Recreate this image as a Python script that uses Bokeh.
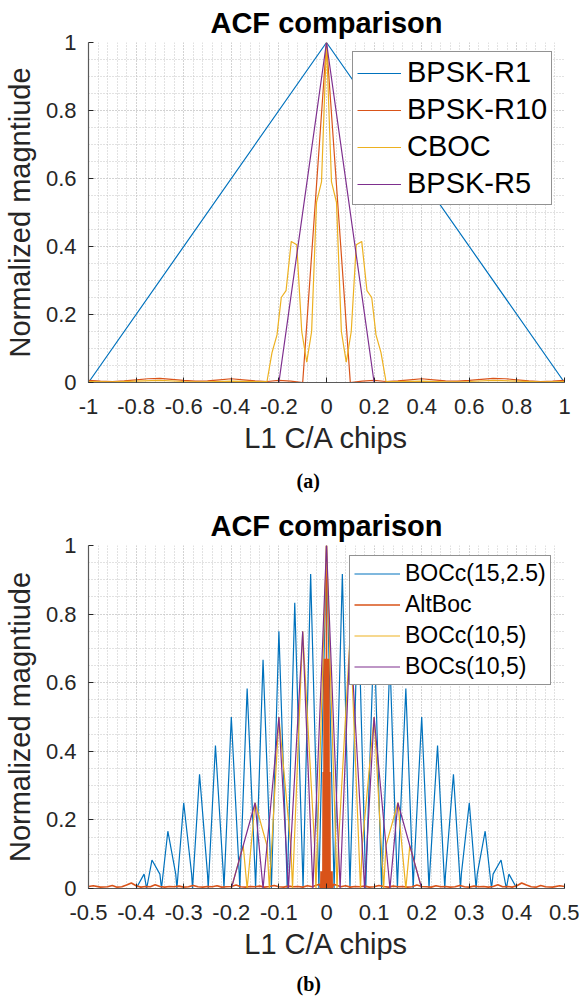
from bokeh.plotting import figure
from bokeh.models import Range1d, FixedTicker, CustomJSTickFormatter, Legend, LegendItem, Title
from bokeh.layouts import column
from bokeh.embed import file_html
from bokeh.resources import INLINE

# ---------------- Panel (a) data ----------------
a_xticks = [-1.0, -0.8, -0.6, -0.4, -0.2, 0.0, 0.2, 0.4, 0.6, 0.8, 1.0]
a_yticks = [0.0, 0.2, 0.4, 0.6, 0.8, 1.0]

bpsk_r1_x = [-1.0, 0.0, 1.0]
bpsk_r1_y = [0.0, 1.0, 0.0]

bpsk_r10_x = [-1.0, -0.95, -0.9, -0.85, -0.8, -0.75, -0.7, -0.65, -0.6, -0.55, -0.5, -0.45, -0.4,
              -0.35, -0.3, -0.25, -0.2, -0.15, -0.1, 0.0, 0.1, 0.15, 0.2, 0.25, 0.3, 0.35, 0.4,
              0.45, 0.5, 0.55, 0.6, 0.65, 0.7, 0.75, 0.8, 0.85, 0.9, 0.95, 1.0]
bpsk_r10_y = [0.006, 0.004, 0.003, 0.005, 0.008, 0.011, 0.012, 0.009, 0.006, 0.004, 0.005, 0.008, 0.011,
              0.008, 0.005, 0.003, 0.006, 0.004, 0.0, 1.0, 0.0, 0.004, 0.006, 0.003, 0.005, 0.008, 0.011,
              0.008, 0.005, 0.004, 0.006, 0.009, 0.012, 0.011, 0.008, 0.005, 0.003, 0.004, 0.006]

cboc_x = [-1.0, -0.9, -0.8, -0.7, -0.6, -0.5, -0.4, -0.3, -0.25, -0.229, -0.208, -0.19, -0.17,
          -0.148, -0.125, -0.104, -0.083, -0.0625, -0.042, -0.021, 0.0, 0.021, 0.042, 0.0625,
          0.083, 0.104, 0.125, 0.148, 0.17, 0.19, 0.208, 0.229, 0.25, 0.3, 0.4, 0.5, 0.6, 0.7,
          0.8, 0.9, 1.0]
cboc_y = [0.003, 0.002, 0.004, 0.006, 0.003, 0.002, 0.004, 0.003, 0.003, 0.088, 0.14, 0.25, 0.27,
          0.415, 0.405, 0.15, 0.06, 0.15, 0.53, 0.59, 1.0, 0.59, 0.53, 0.15,
          0.06, 0.15, 0.405, 0.415, 0.27, 0.25, 0.14, 0.088, 0.003, 0.003, 0.004, 0.002, 0.003, 0.006,
          0.004, 0.002, 0.003]

bpsk_r5_x = [-1.0, -0.2, 0.0, 0.2, 1.0]
bpsk_r5_y = [0.0, 0.0, 1.0, 0.0, 0.0]

# ---------------- Panel (b) data ----------------
b_xticks = [-0.5, -0.4, -0.3, -0.2, -0.1, 0.0, 0.1, 0.2, 0.3, 0.4, 0.5]
b_yticks = [0.0, 0.2, 0.4, 0.6, 0.8, 1.0]

bocc15_x = [-0.5, -0.4, -0.3833, -0.3778, -0.3667, -0.35, -0.3467, -0.3333, -0.3167, -0.3143, -0.3,
            -0.2833, -0.2815, -0.2667, -0.25, -0.2485, -0.2333, -0.2167, -0.2154, -0.2, -0.1833,
            -0.1822, -0.1667, -0.15, -0.149, -0.1333, -0.1167, -0.1158, -0.1, -0.0833, -0.0825,
            -0.0667, -0.05, -0.0493, -0.0333, -0.0167, -0.016, 0.0, 0.016, 0.0167, 0.0333, 0.0493,
            0.05, 0.0667, 0.0825, 0.0833, 0.1, 0.1158, 0.1167, 0.1333, 0.149, 0.15, 0.1667, 0.1822,
            0.1833, 0.2, 0.2154, 0.2167, 0.2333, 0.2485, 0.25, 0.2667, 0.2815, 0.2833, 0.3, 0.3143,
            0.3167, 0.3333, 0.3467, 0.35, 0.3667, 0.3778, 0.3833, 0.4, 0.5]
bocc15_y = [0.0, 0.0, 0.042, 0.0, 0.083, 0.042, 0.0, 0.167, 0.042, 0.0, 0.25,
            0.042, 0.0, 0.333, 0.042, 0.0, 0.417, 0.042, 0.0, 0.5, 0.042,
            0.0, 0.583, 0.042, 0.0, 0.667, 0.042, 0.0, 0.75, 0.042, 0.0,
            0.833, 0.042, 0.0, 0.917, 0.042, 0.0, 1.0, 0.0, 0.042, 0.917, 0.0,
            0.042, 0.833, 0.0, 0.042, 0.75, 0.0, 0.042, 0.667, 0.0, 0.042, 0.583, 0.0,
            0.042, 0.5, 0.0, 0.042, 0.417, 0.0, 0.042, 0.333, 0.0, 0.042, 0.25, 0.0,
            0.042, 0.167, 0.0, 0.042, 0.083, 0.0, 0.042, 0.0, 0.0]

altboc_x = [-0.5, -0.49, -0.475, -0.46, -0.45, -0.44, -0.43, -0.42, -0.41, -0.4, -0.39, -0.38,
            -0.37, -0.36, -0.35, -0.34, -0.33, -0.32, -0.31, -0.3, -0.29, -0.28, -0.27, -0.26,
            -0.25, -0.24, -0.23, -0.22, -0.21, -0.2, -0.19, -0.18, -0.17, -0.16, -0.15, -0.14,
            -0.13, -0.12, -0.11, -0.1, -0.09, -0.08, -0.07, -0.06, -0.05, -0.04, -0.03, -0.02,
            -0.015, -0.012, -0.0115, -0.011, -0.0105, -0.01, -0.0095, -0.009, -0.0085, -0.008,
            -0.0075, -0.007, -0.0065, -0.006, -0.0055, -0.005, -0.0045, -0.004, -0.0035, -0.003,
            -0.0025, -0.002, -0.0015, -0.001, -0.0005, 0.0, 0.0005, 0.001, 0.0015, 0.002, 0.0025,
            0.003, 0.0035, 0.004, 0.0045, 0.005, 0.0055, 0.006, 0.0065, 0.007, 0.0075, 0.008,
            0.0085, 0.009, 0.0095, 0.01, 0.0105, 0.011, 0.0115, 0.012,
            0.015, 0.02, 0.03, 0.04, 0.05, 0.06, 0.07, 0.08, 0.09, 0.1, 0.11,
            0.12, 0.13, 0.14, 0.15, 0.16, 0.17, 0.18, 0.19, 0.2, 0.21, 0.22, 0.23, 0.24, 0.25,
            0.26, 0.27, 0.28, 0.29, 0.3, 0.31, 0.32, 0.33, 0.34, 0.35, 0.36, 0.37, 0.38, 0.39,
            0.4, 0.41, 0.42, 0.43, 0.44, 0.45, 0.46, 0.475, 0.49, 0.5]
altboc_y = [0.006, 0.008, 0.004, 0.005, 0.009, 0.004, 0.005, 0.01, 0.016, 0.008, 0.004, 0.006,
            0.005, 0.011, 0.006, 0.004, 0.006, 0.005, 0.007, 0.004, 0.005, 0.009, 0.005, 0.004,
            0.006, 0.005, 0.008, 0.004, 0.005, 0.006, 0.01, 0.005, 0.004, 0.006, 0.005, 0.007,
            0.004, 0.006, 0.009, 0.005, 0.004, 0.007, 0.005, 0.006, 0.004, 0.008, 0.005, 0.01,
            0.012, 0.0, 0.05, 0.0, 0.05, 0.0, 0.05, 0.0, 0.05, 0.0,
            0.05, 0.34, 0.0, 0.34, 0.0, 0.67, 0.0, 0.67, 0.0, 0.67,
            0.0, 0.67, 0.0, 0.67, 0.0, 1.0, 0.0, 0.67, 0.0, 0.67, 0.0,
            0.67, 0.0, 0.67, 0.0, 0.67, 0.0, 0.34, 0.0, 0.34, 0.05, 0.0,
            0.05, 0.0, 0.05, 0.0, 0.05, 0.0, 0.05, 0.0,
            0.012, 0.01, 0.005, 0.008, 0.004, 0.006, 0.005, 0.007, 0.004, 0.005, 0.009,
            0.006, 0.004, 0.007, 0.005, 0.006, 0.004, 0.005, 0.01, 0.006, 0.005, 0.004, 0.008, 0.005,
            0.006, 0.004, 0.005, 0.009, 0.005, 0.004, 0.007, 0.005, 0.006, 0.004, 0.006, 0.011,
            0.005, 0.006, 0.004, 0.008, 0.016, 0.01, 0.005, 0.004, 0.009, 0.005, 0.004, 0.008, 0.006]

bocc10_x = [-0.5, -0.2, -0.175, -0.1667, -0.15, -0.125, -0.12, -0.1, -0.075, -0.0714, -0.05,
            -0.025, -0.0222, 0.0, 0.0222, 0.025, 0.05, 0.0714, 0.075, 0.1, 0.12, 0.125, 0.15,
            0.1667, 0.175, 0.2, 0.5]
bocc10_y = [0.0, 0.0, 0.125, 0.0, 0.25, 0.125, 0.0, 0.5, 0.125, 0.0, 0.75,
            0.125, 0.0, 1.0, 0.0, 0.125, 0.75, 0.0, 0.125, 0.5, 0.0, 0.125, 0.25,
            0.0, 0.125, 0.0, 0.0]

bocs10_x = [-0.5, -0.2, -0.15, -0.1333, -0.1, -0.08, -0.05, -0.0286, 0.0, 0.0286, 0.05, 0.08,
            0.1, 0.1333, 0.15, 0.2, 0.5]
bocs10_y = [0.0, 0.0, 0.25, 0.0, 0.5, 0.0, 0.75, 0.0, 1.0, 0.0, 0.75, 0.0,
            0.5, 0.0, 0.25, 0.0, 0.0]

C_BLUE = "#0072BD"
C_ORANGE = "#D95319"
C_YELLOW = "#EDB120"
C_PURPLE = "#7E2F8E"
AXC = "#262626"
FONT = "Liberation Sans"


def make_fig(height, top, bottom, xr, xticks, xminor, yticks, yminor, caption, cap_standoff):
    p = figure(width=579, height=height, x_range=Range1d(*xr), y_range=Range1d(0, 1),
               output_backend="svg", toolbar_location=None,
               min_border_left=86, min_border_right=15, min_border_top=top,
               min_border_bottom=bottom)
    p.outline_line_color = None
    p.background_fill_color = "white"
    p.border_fill_color = "white"
    p.title.text = "ACF comparison"
    p.title.align = "center"
    p.title.text_font = FONT
    p.title.text_font_size = "29px"
    p.title.text_font_style = "bold"
    p.title.text_color = "black"
    p.title.standoff = 8

    fmt = CustomJSTickFormatter(code="return String(Math.round(tick*1000)/1000);")
    p.xaxis.ticker = FixedTicker(ticks=xticks, minor_ticks=xminor)
    p.yaxis.ticker = FixedTicker(ticks=yticks, minor_ticks=yminor)
    for ax in (p.xaxis, p.yaxis):
        ax.formatter = fmt
        ax.axis_line_color = "#5a5a5a"
        ax.axis_line_width = 1.2
        ax.major_tick_line_color = AXC
        ax.major_tick_in = 5
        ax.major_tick_out = 0
        ax.minor_tick_line_color = None
        ax.major_label_text_font = FONT
        ax.major_label_text_font_size = "22px"
        ax.major_label_text_color = AXC
        ax.axis_label_text_font = FONT
        ax.axis_label_text_font_size = "29px"
        ax.axis_label_text_font_style = "normal"
        ax.axis_label_text_color = AXC
    p.xaxis.axis_label = "L1 C/A chips"
    p.yaxis.axis_label = "Normalized magntiude"
    p.xaxis.major_label_standoff = 12
    p.xaxis.axis_label_standoff = 5
    p.yaxis.major_label_standoff = 8
    p.yaxis.axis_label_standoff = 7

    for g in (p.xgrid, p.ygrid):
        g.grid_line_color = "#c4c4c4"
        g.grid_line_dash = "1 2"
        g.minor_grid_line_color = "#c4c4c4"
        g.minor_grid_line_dash = "1 2"

    cap = Title(text=caption, align="left", text_font="Liberation Serif",
                text_font_size="20px", text_font_style="bold", text_color="black",
                offset=208, standoff=cap_standoff)
    p.add_layout(cap, "below")
    return p


def minor(lo, hi, step):
    out = []
    v = lo
    while v <= hi + 1e-9:
        out.append(round(v, 6))
        v += step
    return out


# ---------- figure a ----------
pa = make_fig(503, 40, 121, (-1, 1), a_xticks, minor(-1, 1, 0.04), a_yticks, minor(0, 1, 0.05), "(a)", 23)
lw = 1.2
ra1 = pa.line(bpsk_r1_x, bpsk_r1_y, line_color=C_BLUE, line_width=lw)
ra2 = pa.line(bpsk_r10_x, bpsk_r10_y, line_color=C_ORANGE, line_width=lw)
ra3 = pa.line(cboc_x, cboc_y, line_color=C_YELLOW, line_width=lw)
ra4 = pa.line(bpsk_r5_x, bpsk_r5_y, line_color=C_PURPLE, line_width=lw)
leg_a = Legend(items=[LegendItem(label="BPSK-R1", renderers=[ra1]),
                      LegendItem(label="BPSK-R10", renderers=[ra2]),
                      LegendItem(label="CBOC", renderers=[ra3]),
                      LegendItem(label="BPSK-R5", renderers=[ra4])],
               location=(264, 177), orientation="vertical")
leg_a.label_text_font = FONT
leg_a.label_text_font_size = "29px"
leg_a.label_text_color = "black"
leg_a.glyph_width = 44
leg_a.glyph_height = 32
leg_a.label_height = 32
leg_a.spacing = 4
leg_a.padding = 4
leg_a.margin = 0
leg_a.label_standoff = 6
leg_a.border_line_color = AXC
leg_a.border_line_width = 1
leg_a.background_fill_alpha = 1.0
pa.add_layout(leg_a, "center")

# ---------- figure b ----------
pb = make_fig(504, 42, 119, (-0.5, 0.5), b_xticks, minor(-0.5, 0.5, 0.02), b_yticks, minor(0, 1, 0.05), "(b)", 17)
rb1 = pb.line(bocc15_x, bocc15_y, line_color=C_BLUE, line_width=lw)
rb2 = pb.line(altboc_x, altboc_y, line_color=C_ORANGE, line_width=1.6)
rb3 = pb.line(bocc10_x, bocc10_y, line_color=C_YELLOW, line_width=lw)
rb4 = pb.line(bocs10_x, bocs10_y, line_color=C_PURPLE, line_width=lw)
leg_b = Legend(items=[LegendItem(label="BOCc(15,2.5)", renderers=[rb1]),
                      LegendItem(label="AltBoc", renderers=[rb2]),
                      LegendItem(label="BOCc(10,5)", renderers=[rb3]),
                      LegendItem(label="BOCs(10,5)", renderers=[rb4])],
               location=(261, 203), orientation="vertical")
leg_b.label_text_font = FONT
leg_b.label_text_font_size = "23px"
leg_b.label_text_color = "black"
leg_b.glyph_width = 46
leg_b.glyph_height = 25
leg_b.label_height = 25
leg_b.spacing = 4
leg_b.padding = 4
leg_b.margin = 0
leg_b.label_standoff = 5
leg_b.border_line_color = AXC
leg_b.border_line_width = 1
leg_b.background_fill_alpha = 1.0
pb.add_layout(leg_b, "center")

layout = column(pa, pb, spacing=0)
open("out.html", "w").write(file_html(layout, INLINE))
